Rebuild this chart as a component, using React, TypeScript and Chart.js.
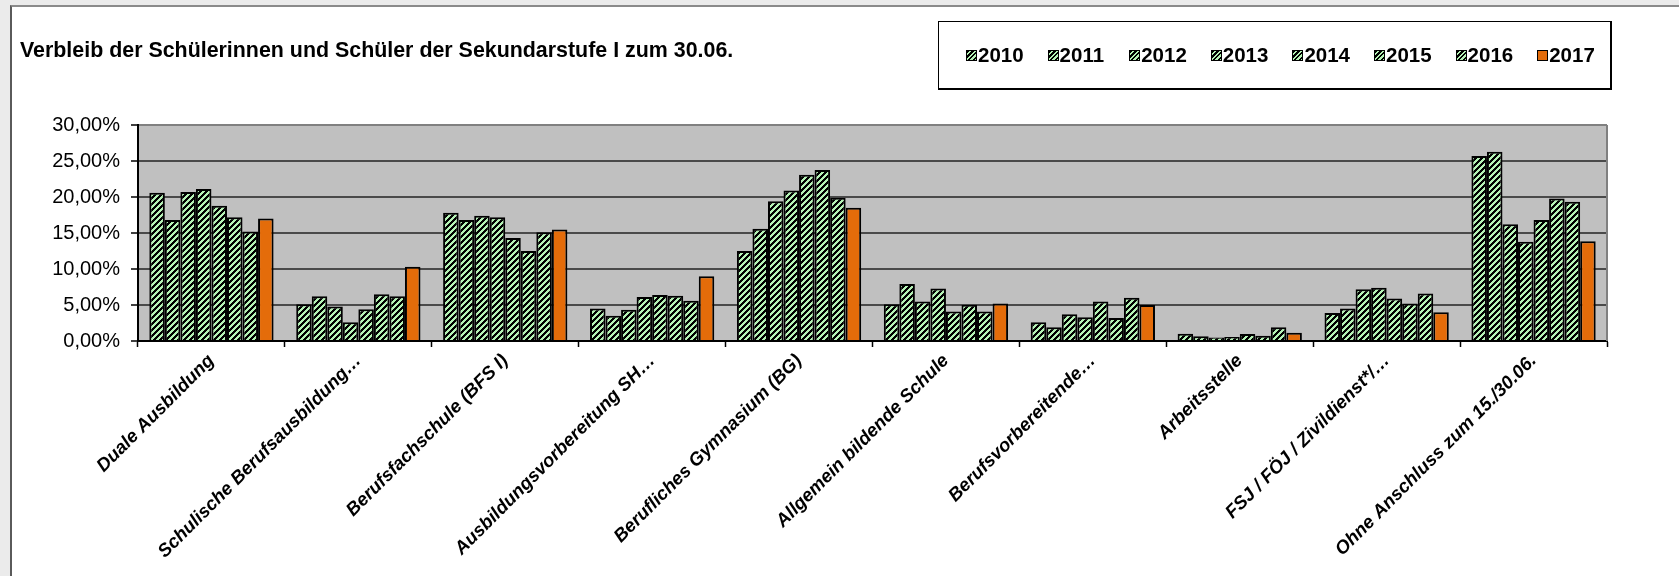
import React, { useEffect, useRef } from 'react';
import { Chart, registerables } from 'chart.js';

Chart.register(...registerables);

const categories = [
  'Duale Ausbildung',
  'Schulische Berufsausbildung…',
  'Berufsfachschule (BFS I)',
  'Ausbildungsvorbereitung SH…',
  'Berufliches Gymnasium (BG)',
  'Allgemein bildende Schule',
  'Berufsvorbereitende…',
  'Arbeitsstelle',
  'FSJ / FÖJ / Zivildienst*/…',
  'Ohne Anschluss zum 15./30.06.',
];

const years = ['2010', '2011', '2012', '2013', '2014', '2015', '2016', '2017'];

const v2010 = [20.6, 5.1, 17.8, 4.5, 12.5, 5.1, 2.6, 1.0, 3.9, 25.7];
const v2011 = [16.8, 6.2, 16.8, 3.5, 15.6, 7.9, 1.9, 0.65, 4.5, 26.3];
const v2012 = [20.7, 4.8, 17.4, 4.35, 19.4, 5.5, 3.7, 0.5, 7.2, 16.2];
const v2013 = [21.1, 2.6, 17.2, 6.1, 20.9, 7.3, 3.3, 0.55, 7.4, 13.8];
const v2014 = [18.8, 4.4, 14.3, 6.4, 23.1, 4.1, 5.5, 0.97, 5.9, 16.8];
const v2015 = [17.2, 6.5, 12.5, 6.3, 23.75, 5.05, 3.2, 0.74, 5.2, 19.8];
const v2016 = [15.2, 6.2, 15.1, 5.6, 19.9, 4.1, 6.0, 1.9, 6.6, 19.35];
const v2017 = [17.0, 10.3, 15.5, 9.0, 18.5, 5.2, 5.0, 1.15, 4.0, 13.85];

const seriesValues = [v2010, v2011, v2012, v2013, v2014, v2015, v2016, v2017];

const yMin = 0;
const yMax = 30;
const yStep = 5;

const titleText = 'Verbleib der Schülerinnen und Schüler der Sekundarstufe I zum 30.06.';

const FONT = "'Liberation Sans', Arial, Helvetica, sans-serif";
const GREEN = '#b4f2b4';
const ORANGE = '#E46C0A';
const PLOT_BG = '#c0c0c0';

function makeHatch(): CanvasPattern | string {
  const c = document.createElement('canvas');
  const n = 6;
  c.width = n;
  c.height = n;
  const g = c.getContext('2d');
  if (!g) return GREEN;
  g.fillStyle = GREEN;
  g.fillRect(0, 0, n, n);
  g.fillStyle = '#000';
  for (let x = 0; x < n; x++) {
    for (let y = 0; y < n; y++) {
      if ((x + y) % n < 3) g.fillRect(x, y, 1, 1);
    }
  }
  return g.createPattern(c, 'repeat') || GREEN;
}

const plotFrame = {
  id: 'plotFrame',
  beforeDraw(chart: any) {
    const { ctx, chartArea: a } = chart;
    ctx.save();
    ctx.fillStyle = PLOT_BG;
    ctx.fillRect(a.left, a.top, a.right - a.left, a.bottom - a.top);
    ctx.restore();
  },
  beforeDatasetsDraw(chart: any) {
    const { ctx, chartArea: a } = chart;
    ctx.save();
    ctx.strokeStyle = '#808080';
    ctx.lineWidth = 2;
    ctx.beginPath();
    ctx.moveTo(a.right, a.top);
    ctx.lineTo(a.right, a.bottom);
    ctx.stroke();
    ctx.restore();
  },
};

export default function App() {
  const ref = useRef<HTMLCanvasElement>(null);

  useEffect(() => {
    if (!ref.current) return;
    const hatch = makeHatch();
    const datasets = years.map((y, i) => ({
      label: y,
      data: seriesValues[i],
      backgroundColor: y === '2017' ? ORANGE : hatch,
      borderColor: '#000',
      borderWidth: 2,
      categoryPercentage: 0.846,
      barPercentage: 1,
    }));
    const chart = new Chart(ref.current, {
      type: 'bar',
      data: { labels: categories, datasets: datasets as any },
      options: {
        animation: false,
        responsive: false,
        maintainAspectRatio: false,
        devicePixelRatio: 1,
        layout: { padding: { left: 0, right: 72, top: 125, bottom: 0 } },
        plugins: {
          legend: { display: false },
          title: { display: false },
          tooltip: { enabled: false },
        },
        scales: {
          x: {
            offset: true,
            grid: {
              offset: true,
              drawOnChartArea: false,
              tickLength: 6,
              tickColor: '#000',
              tickWidth: 1.5,
            },
            border: { color: '#000', width: 2 },
            ticks: {
              autoSkip: false,
              maxRotation: 45,
              minRotation: 45,
              padding: 3,
              color: '#000',
              font: { family: FONT, size: 18.5, weight: 'bold', style: 'italic' },
            },
            afterFit(scale: any) {
              scale.height = 235;
            },
          },
          y: {
            min: yMin,
            max: yMax,
            grid: {
              color: (c: any) => (c.tick && c.tick.value === yMax ? '#808080' : c.tick && c.tick.value === 0 ? '#000' : '#4a4a4a'),
              lineWidth: 2,
              tickLength: 7,
              tickColor: '#000',
              tickWidth: 1.5,
            },
            border: { color: '#000', width: 2 },
            ticks: {
              stepSize: yStep,
              padding: 11,
              color: '#000',
              font: { family: FONT, size: 20 },
              callback: (v: any) => Number(v).toFixed(2).replace('.', ',') + '%',
            },
            afterFit(scale: any) {
              scale.width = 138;
            },
          },
        },
      } as any,
      plugins: [plotFrame],
    });
    return () => chart.destroy();
  }, []);

  const legendLeft = 966;
  const legendStep = 81.6;

  return (
    <div style={{ position: 'fixed', left: 0, top: 0, width: 1679, height: 576, background: '#ebebeb', overflow: 'hidden', fontFamily: FONT }}>
      <div
        style={{
          position: 'absolute',
          left: 10,
          top: 5,
          width: 1700,
          height: 600,
          background: '#fff',
          borderLeft: '2px solid #5a5a5a',
          borderTop: '2px solid #8a8a8a',
        }}
      />
      <canvas ref={ref} width={1679} height={576} style={{ position: 'absolute', left: 0, top: 0, width: 1679, height: 576 }} />
      <div
        style={{
          position: 'absolute',
          left: 20,
          top: 38,
          fontSize: 21.4,
          lineHeight: '24px',
          fontWeight: 'bold',
          color: '#000',
          whiteSpace: 'nowrap',
        }}
      >
        {titleText}
      </div>
      <div
        style={{
          position: 'absolute',
          left: 938,
          top: 21,
          width: 671,
          height: 66,
          border: '1px solid #000',
          borderRightWidth: 2,
          borderBottomWidth: 2,
          boxSizing: 'content-box',
        }}
      />
      {years.map((y, i) => (
        <div
          key={y}
          style={{
            position: 'absolute',
            left: legendLeft + i * legendStep,
            top: 43,
            height: 24,
            display: 'flex',
            alignItems: 'center',
            whiteSpace: 'nowrap',
          }}
        >
          <span
            style={{
              display: 'inline-block',
              width: 9,
              height: 9,
              border: '1px solid #000',
              background:
                y === '2017'
                  ? ORANGE
                  : `repeating-linear-gradient(135deg, #000 0px, #000 1.6px, ${GREEN} 1.6px, ${GREEN} 3.4px)`,
              marginRight: 1,
            }}
          />
          <span style={{ fontSize: 20.5, lineHeight: '24px', fontWeight: 'bold', color: '#000' }}>{y}</span>
        </div>
      ))}
    </div>
  );
}
